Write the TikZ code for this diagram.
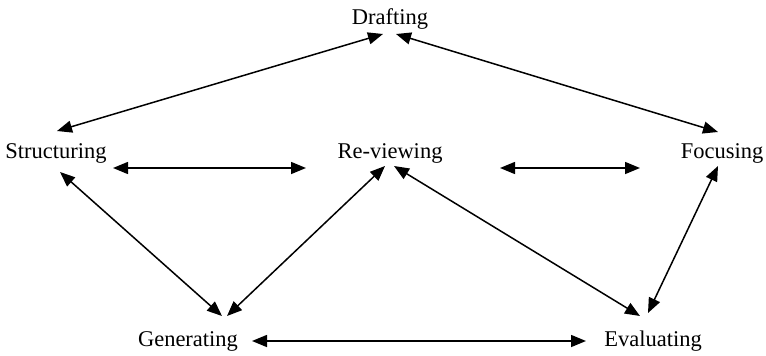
\documentclass[tikz,border=0pt]{standalone}
\usepackage{fontspec}
\setmainfont{Liberation Serif}
\usetikzlibrary{arrows.meta,calc}
\tikzset{
  lbl/.style={inner sep=0pt, anchor=base, font=\fontsize{22.5}{26}\selectfont},
  biarrow/.style={line width=1.5pt, {Triangle[length=15pt,width=12pt]}-{Triangle[length=15pt,width=12pt]}}
}
\begin{document}
\begin{tikzpicture}[x=1pt,y=-1pt]
\useasboundingbox (0,0) rectangle (766,356);
\node[lbl] (D) at (390,24) {Drafting};
\node[lbl] (S) at (56,158) {Structuring};
\node[lbl] (R) at (390,158) {Re-viewing};
\node[lbl] (F) at (722,158) {Focusing};
\node[lbl] (G) at (188,346) {Generating};
\node[lbl] (E) at (653,346) {Evaluating};
\draw[biarrow] ($(D.base)+(-7,10)$) -- ($(S.base)+(1,-27)$);
\draw[biarrow] ($(D.base)+(6,10)$) -- ($(F.base)+(-4,-26)$);
\draw[biarrow] ($(S.base)+(57,10)$) -- ($(R.base)+(-84,10)$);
\draw[biarrow] ($(R.base)+(110,10)$) -- ($(F.base)+(-82,10)$);
\draw[biarrow] ($(S.base)+(4,14)$) -- ($(G.base)+(34,-30)$);
\draw[biarrow] ($(R.base)+(-5,8)$) -- ($(G.base)+(39,-30)$);
\draw[biarrow] ($(R.base)+(4,8)$) -- ($(E.base)+(-13,-30)$);
\draw[biarrow] ($(F.base)+(-4,8)$) -- ($(E.base)+(-5,-33)$);
\draw[biarrow] ($(G.base)+(64,-5)$) -- ($(E.base)+(-67,-5)$);
\end{tikzpicture}
\end{document}
